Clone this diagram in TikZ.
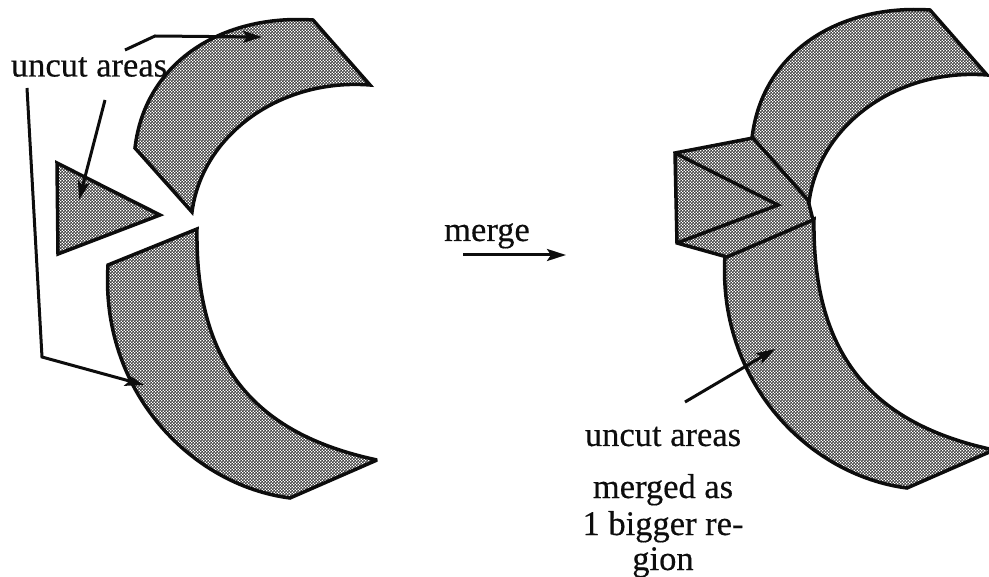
\documentclass[tikz,border=0pt]{standalone}
\usepackage{fontspec}
\setmainfont{Liberation Serif}
\newfontfamily\lblfont[FakeBold=0.4]{Liberation Serif}
\usetikzlibrary{arrows.meta,patterns}
\pgfdeclarepatternformonly{chk}{\pgfqpoint{0pt}{0pt}}{\pgfqpoint{3.4pt}{3.4pt}}{\pgfqpoint{3.4pt}{3.4pt}}{%
  \pgfpathrectangle{\pgfqpoint{0pt}{0pt}}{\pgfqpoint{1.8pt}{1.8pt}}%
  \pgfpathrectangle{\pgfqpoint{1.7pt}{1.7pt}}{\pgfqpoint{1.8pt}{1.8pt}}%
  \pgfusepath{fill}}
\tikzset{
  shade fill/.style={pattern=chk,pattern color=black!75},
  outline/.style={draw=black!95,line width=3.5pt,line join=miter,miter limit=3},
  leader/.style={draw=black!95,line width=3pt,-{Stealth[length=19pt,width=12pt,inset=4pt]}},
  lbl/.style={font=\lblfont\fontsize{34.5}{34.5}\selectfont,inner sep=0pt,text=black!95,anchor=base}
}
\def\upperarc{(135,148) .. controls (145,62) and (222,14) .. (313,20) -- (370,85) .. controls (280,78) and (202,135) .. (192,212) -- cycle}
\def\lowerarc{(197,229) -- (108,265) .. controls (100,390) and (190,485) .. (290,498) -- (377,460) .. controls (260,435) and (195,370) .. (197,229) -- cycle}
\begin{document}
\begin{tikzpicture}[x=1pt,y=-1pt]
\useasboundingbox (0,0) rectangle (989,577);
\clip (0,0) rectangle (989,577);
% left: separate uncut areas
\path[shade fill] \upperarc;
\draw[outline] \upperarc;
\path[shade fill] \lowerarc;
\draw[outline] \lowerarc;
\path[shade fill] (57,163) -- (160,215) -- (58,254) -- cycle;
\draw[outline] (57,163) -- (160,215) -- (58,254) -- cycle;
% right: merged
\begin{scope}[shift={(617,-10)}]
\path[shade fill] \upperarc;
\draw[outline] \upperarc;
\path[shade fill] \lowerarc;
\draw[outline] \lowerarc;
\end{scope}
\path[fill=white] (675,153) -- (753,138) -- (808,200) -- (813,220) -- (727,257) -- (677,243) -- cycle;
\path[shade fill] (675,153) -- (753,138) -- (808,200) -- (813,220) -- (727,257) -- (677,243) -- cycle;
\draw[outline] (675,153) -- (753,138) -- (808,200) -- (813,220) -- (727,257) -- (677,243) -- cycle;
\draw[outline] (675,153) -- (778,205) -- (677,243);
% labels
\node[lbl] (uncutL) at (89,76.5) {uncut areas};
\node[lbl] (merge) at (487,241) {merge};
\node[lbl] (uncutR) at (663,446) {uncut areas};
\node[lbl] (merged1) at (663,498) {merged as};
\node[lbl] (merged2) at (663,535) {1 bigger re-};
\node[lbl] (merged3) at (663,570) {gion};
% connector ends
\coordinate (a1) at (125,50); \coordinate (a2) at (155,36); \coordinate (a3) at (262,37);
\coordinate (b1) at (105,100); \coordinate (b2) at (79,200);
\coordinate (c1) at (27,88); \coordinate (c2) at (42,357); \coordinate (c3) at (144,385);
\coordinate (d1) at (463,255); \coordinate (d2) at (566,255);
\coordinate (e1) at (685,402); \coordinate (e2) at (775,349);
\draw[leader] (a1) -- (a2) -- (a3);
\draw[leader] (b1) -- (b2);
\draw[leader] (c1) -- (c2) -- (c3);
\draw[leader] (d1) -- (d2);
\draw[leader] (e1) -- (e2);
\end{tikzpicture}
\end{document}
